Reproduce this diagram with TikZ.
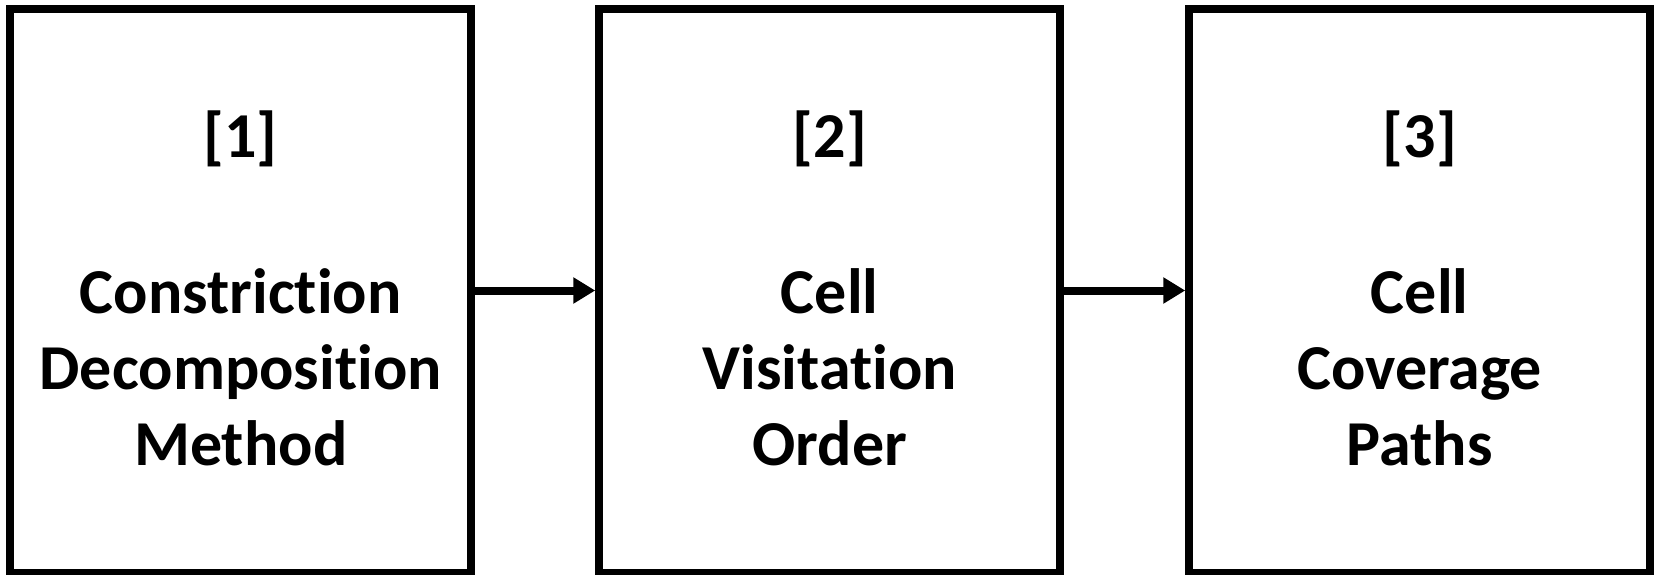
\documentclass[tikz,border=0pt]{standalone}
\usepackage{fontspec}
\setmainfont{Carlito}[Ligatures=NoCommon]
\usetikzlibrary{arrows.meta}
\begin{document}
\begin{tikzpicture}[x=1pt,y=-1pt,
  stagebox/.style={draw=black,line width=8pt,minimum width=461pt,minimum height=564pt,inner sep=0pt},
  label/.style={font=\fontsize{64}{76}\selectfont\bfseries,align=center,anchor=base,inner sep=0pt},
  flow/.style={line width=8pt,-{Triangle[length=22pt,width=25pt]}}]
\useasboundingbox (0,0) rectangle (1655,574);
\node[stagebox] (b1) at (240.75,290.5) {};
\node[stagebox] (b2) at (829.75,290.5) {};
\node[stagebox] (b3) at (1419.75,290.5) {};
\node[label] (n1) at (240.75,157) {[1]};
\node[label] (n2) at (829.75,157) {[2]};
\node[label] (n3) at (1419.75,157) {[3]};
\node[label] (t1) at (240.75,465) {Constriction\\Decomposition\\Method};
\node[label] (t2) at (829.75,465) {Cell\\Visitation\\Order};
\node[label] (t3) at (1419.75,465) {Cell\\Coverage\\Paths};
\draw[flow] (b1.east) -- (b2.west);
\draw[flow] (b2.east) -- (b3.west);
\end{tikzpicture}
\end{document}
